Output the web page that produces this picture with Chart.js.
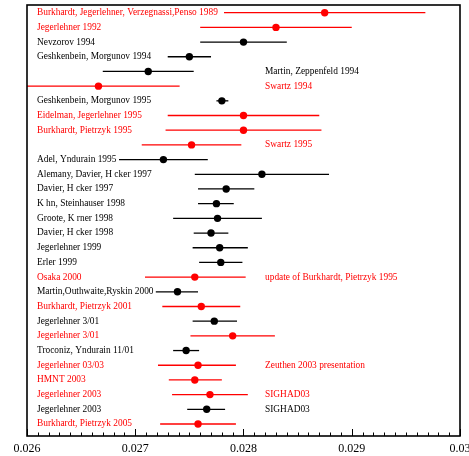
<!DOCTYPE html>
<html>
<head>
<meta charset="utf-8">
<script src="https://cdn.jsdelivr.net/npm/chart.js@4"></script>
<style>
html, body { margin: 0; padding: 0; background: #fff; }
#wrap { width: 469px; height: 456px; }
</style>
</head>
<body>
<div id="wrap"><canvas id="chart"></canvas></div>
<script>
// one entry per row, top to bottom
const leftLabels = [
    'Burkhardt, Jegerlehner, Verzegnassi,Penso 1989',
    'Jegerlehner 1992',
    'Nevzorov 1994',
    'Geshkenbein, Morgunov 1994',
    '',
    '',
    'Geshkenbein, Morgunov 1995',
    'Eidelman, Jegerlehner 1995',
    'Burkhardt, Pietrzyk 1995',
    '',
    'Adel, Yndurain 1995',
    'Alemany, Davier, H cker 1997',
    'Davier, H cker 1997',
    'K hn, Steinhauser 1998',
    'Groote, K rner 1998',
    'Davier, H cker 1998',
    'Jegerlehner 1999',
    'Erler 1999',
    'Osaka 2000',
    'Martin,Outhwaite,Ryskin 2000',
    'Burkhardt, Pietrzyk 2001',
    'Jegerlehner 3/01',
    'Jegerlehner 3/01',
    'Troconiz, Yndurain 11/01',
    'Jegerlehner 03/03',
    'HMNT 2003',
    'Jegerlehner 2003',
    'Jegerlehner 2003',
    'Burkhardt, Pietrzyk 2005'
];
const rightLabels = [
    '', '', '', '',
    'Martin, Zeppenfeld 1994',
    'Swartz 1994',
    '', '', '',
    'Swartz 1995',
    '', '', '', '', '', '', '', '',
    'update of Burkhardt, Pietrzyk 1995',
    '', '', '', '', '',
    'Zeuthen 2003 presentation',
    '',
    'SIGHAD03',
    'SIGHAD03',
    ''
];
const centralValues = [
    0.02875, 0.02830, 0.02800, 0.02750, 0.02712, 0.02666, 0.02780, 0.02800,
    0.02800, 0.02752, 0.02726, 0.02817, 0.02784, 0.02775, 0.02776, 0.02770,
    0.02778, 0.02779, 0.02755, 0.02739, 0.02761, 0.02773, 0.02790, 0.02747,
    0.02758, 0.02755, 0.02769, 0.02766, 0.02758
];
const lowerEnds = [
    0.02782, 0.02760, 0.02760, 0.02730, 0.02670, 0.02591, 0.02775, 0.02730,
    0.02728, 0.02706, 0.02685, 0.02755, 0.02758, 0.02758, 0.02735, 0.02754,
    0.02753, 0.02759, 0.02709, 0.02719, 0.02725, 0.02753, 0.02751, 0.02735,
    0.02721, 0.02731, 0.02734, 0.02748, 0.02723
];
const upperEnds = [
    0.02968, 0.02900, 0.02840, 0.02770, 0.02754, 0.02741, 0.02786, 0.02870,
    0.02872, 0.02798, 0.02767, 0.02879, 0.02810, 0.02791, 0.02817, 0.02786,
    0.02804, 0.02799, 0.02802, 0.02758, 0.02797, 0.02794, 0.02829, 0.02759,
    0.02793, 0.02780, 0.02804, 0.02783, 0.02793
];
// red rows vs black rows
const isRed = [
    1, 1, 0, 0, 0, 1, 0, 1, 1, 1, 0, 0, 0, 0, 0, 0, 0, 0, 1, 0, 1, 0, 1, 0, 1, 1, 1, 0, 1
];
const xTickLabels = ['0.026', '0.027', '0.028', '0.029', '0.03'];

const RED = '#ff0000';
const BLACK = '#000000';
const rowColor = i => isRed[i] ? RED : BLACK;

function pointsFor(flag) {
    const pts = [];
    centralValues.forEach((v, i) => {
        if (isRed[i] === flag) pts.push({ x: v, y: i + 1 });
    });
    return pts;
}

// error bars behind the dots
const errorBars = {
    id: 'errorBars',
    beforeDatasetsDraw(chart) {
        const { ctx, chartArea, scales } = chart;
        ctx.save();
        ctx.beginPath();
        ctx.rect(chartArea.left, chartArea.top, chartArea.right - chartArea.left, chartArea.bottom - chartArea.top);
        ctx.clip();
        ctx.lineWidth = 1.3;
        centralValues.forEach((v, i) => {
            const y = scales.y.getPixelForValue(i + 1);
            ctx.strokeStyle = rowColor(i);
            ctx.beginPath();
            ctx.moveTo(scales.x.getPixelForValue(lowerEnds[i]), y);
            ctx.lineTo(scales.x.getPixelForValue(upperEnds[i]), y);
            ctx.stroke();
        });
        ctx.restore();
    }
};

// frame, inward ticks and the row labels
const decorations = {
    id: 'decorations',
    afterDraw(chart) {
        const { ctx, chartArea, scales } = chart;
        const x = scales.x;
        ctx.save();
        ctx.strokeStyle = '#000';
        ctx.lineWidth = 1.6;
        ctx.strokeRect(chartArea.left, chartArea.top, chartArea.right - chartArea.left, chartArea.bottom - chartArea.top);

        ctx.lineWidth = 1;
        for (let k = 0; k <= 40; k++) {
            const px = Math.round(x.getPixelForValue(x.min + k * 0.0001)) + 0.5;
            const len = k % 10 === 0 ? 7 : 3.5;
            ctx.beginPath();
            ctx.moveTo(px, chartArea.bottom);
            ctx.lineTo(px, chartArea.bottom - len);
            ctx.stroke();
        }

        ctx.font = '9.4px "Liberation Serif", "Times New Roman", serif';
        ctx.textBaseline = 'middle';
        ctx.textAlign = 'left';
        leftLabels.forEach((t, i) => {
            const y = scales.y.getPixelForValue(i + 1);
            ctx.fillStyle = rowColor(i);
            if (t) ctx.fillText(t, 37, y);
            if (rightLabels[i]) ctx.fillText(rightLabels[i], 265, y);
        });
        ctx.restore();
    }
};

new Chart(document.getElementById('chart'), {
    type: 'scatter',
    data: {
        datasets: [{
            label: 'red',
            data: pointsFor(1),
            backgroundColor: RED,
            borderColor: RED,
            pointRadius: 3.7,
            pointBorderWidth: 0
        }, {
            label: 'black',
            data: pointsFor(0),
            backgroundColor: BLACK,
            borderColor: BLACK,
            pointRadius: 3.7,
            pointBorderWidth: 0
        }]
    },
    options: {
        responsive: true,
        maintainAspectRatio: false,
        animation: false,
        layout: {
            padding: { left: 27, right: 9, top: 5, bottom: 0 }
        },
        scales: {
            x: {
                type: 'linear',
                min: 0.026,
                max: 0.030,
                ticks: {
                    stepSize: 0.001,
                    color: '#000',
                    padding: 6,
                    font: { family: '"Liberation Serif", serif', size: 12 },
                    callback: function(value, index) { return xTickLabels[index]; }
                },
                grid: { display: false, drawTicks: false },
                border: { display: false },
                afterFit: function(scale) {
                    scale.paddingLeft = 0;
                    scale.paddingRight = 0;
                    scale.height = 20;
                }
            },
            y: {
                type: 'linear',
                reverse: true,
                min: 0.476,
                max: 29.817,
                display: false
            }
        },
        plugins: {
            legend: { display: false },
            tooltip: { enabled: false }
        }
    },
    plugins: [errorBars, decorations]
});
</script>
</body>
</html>
